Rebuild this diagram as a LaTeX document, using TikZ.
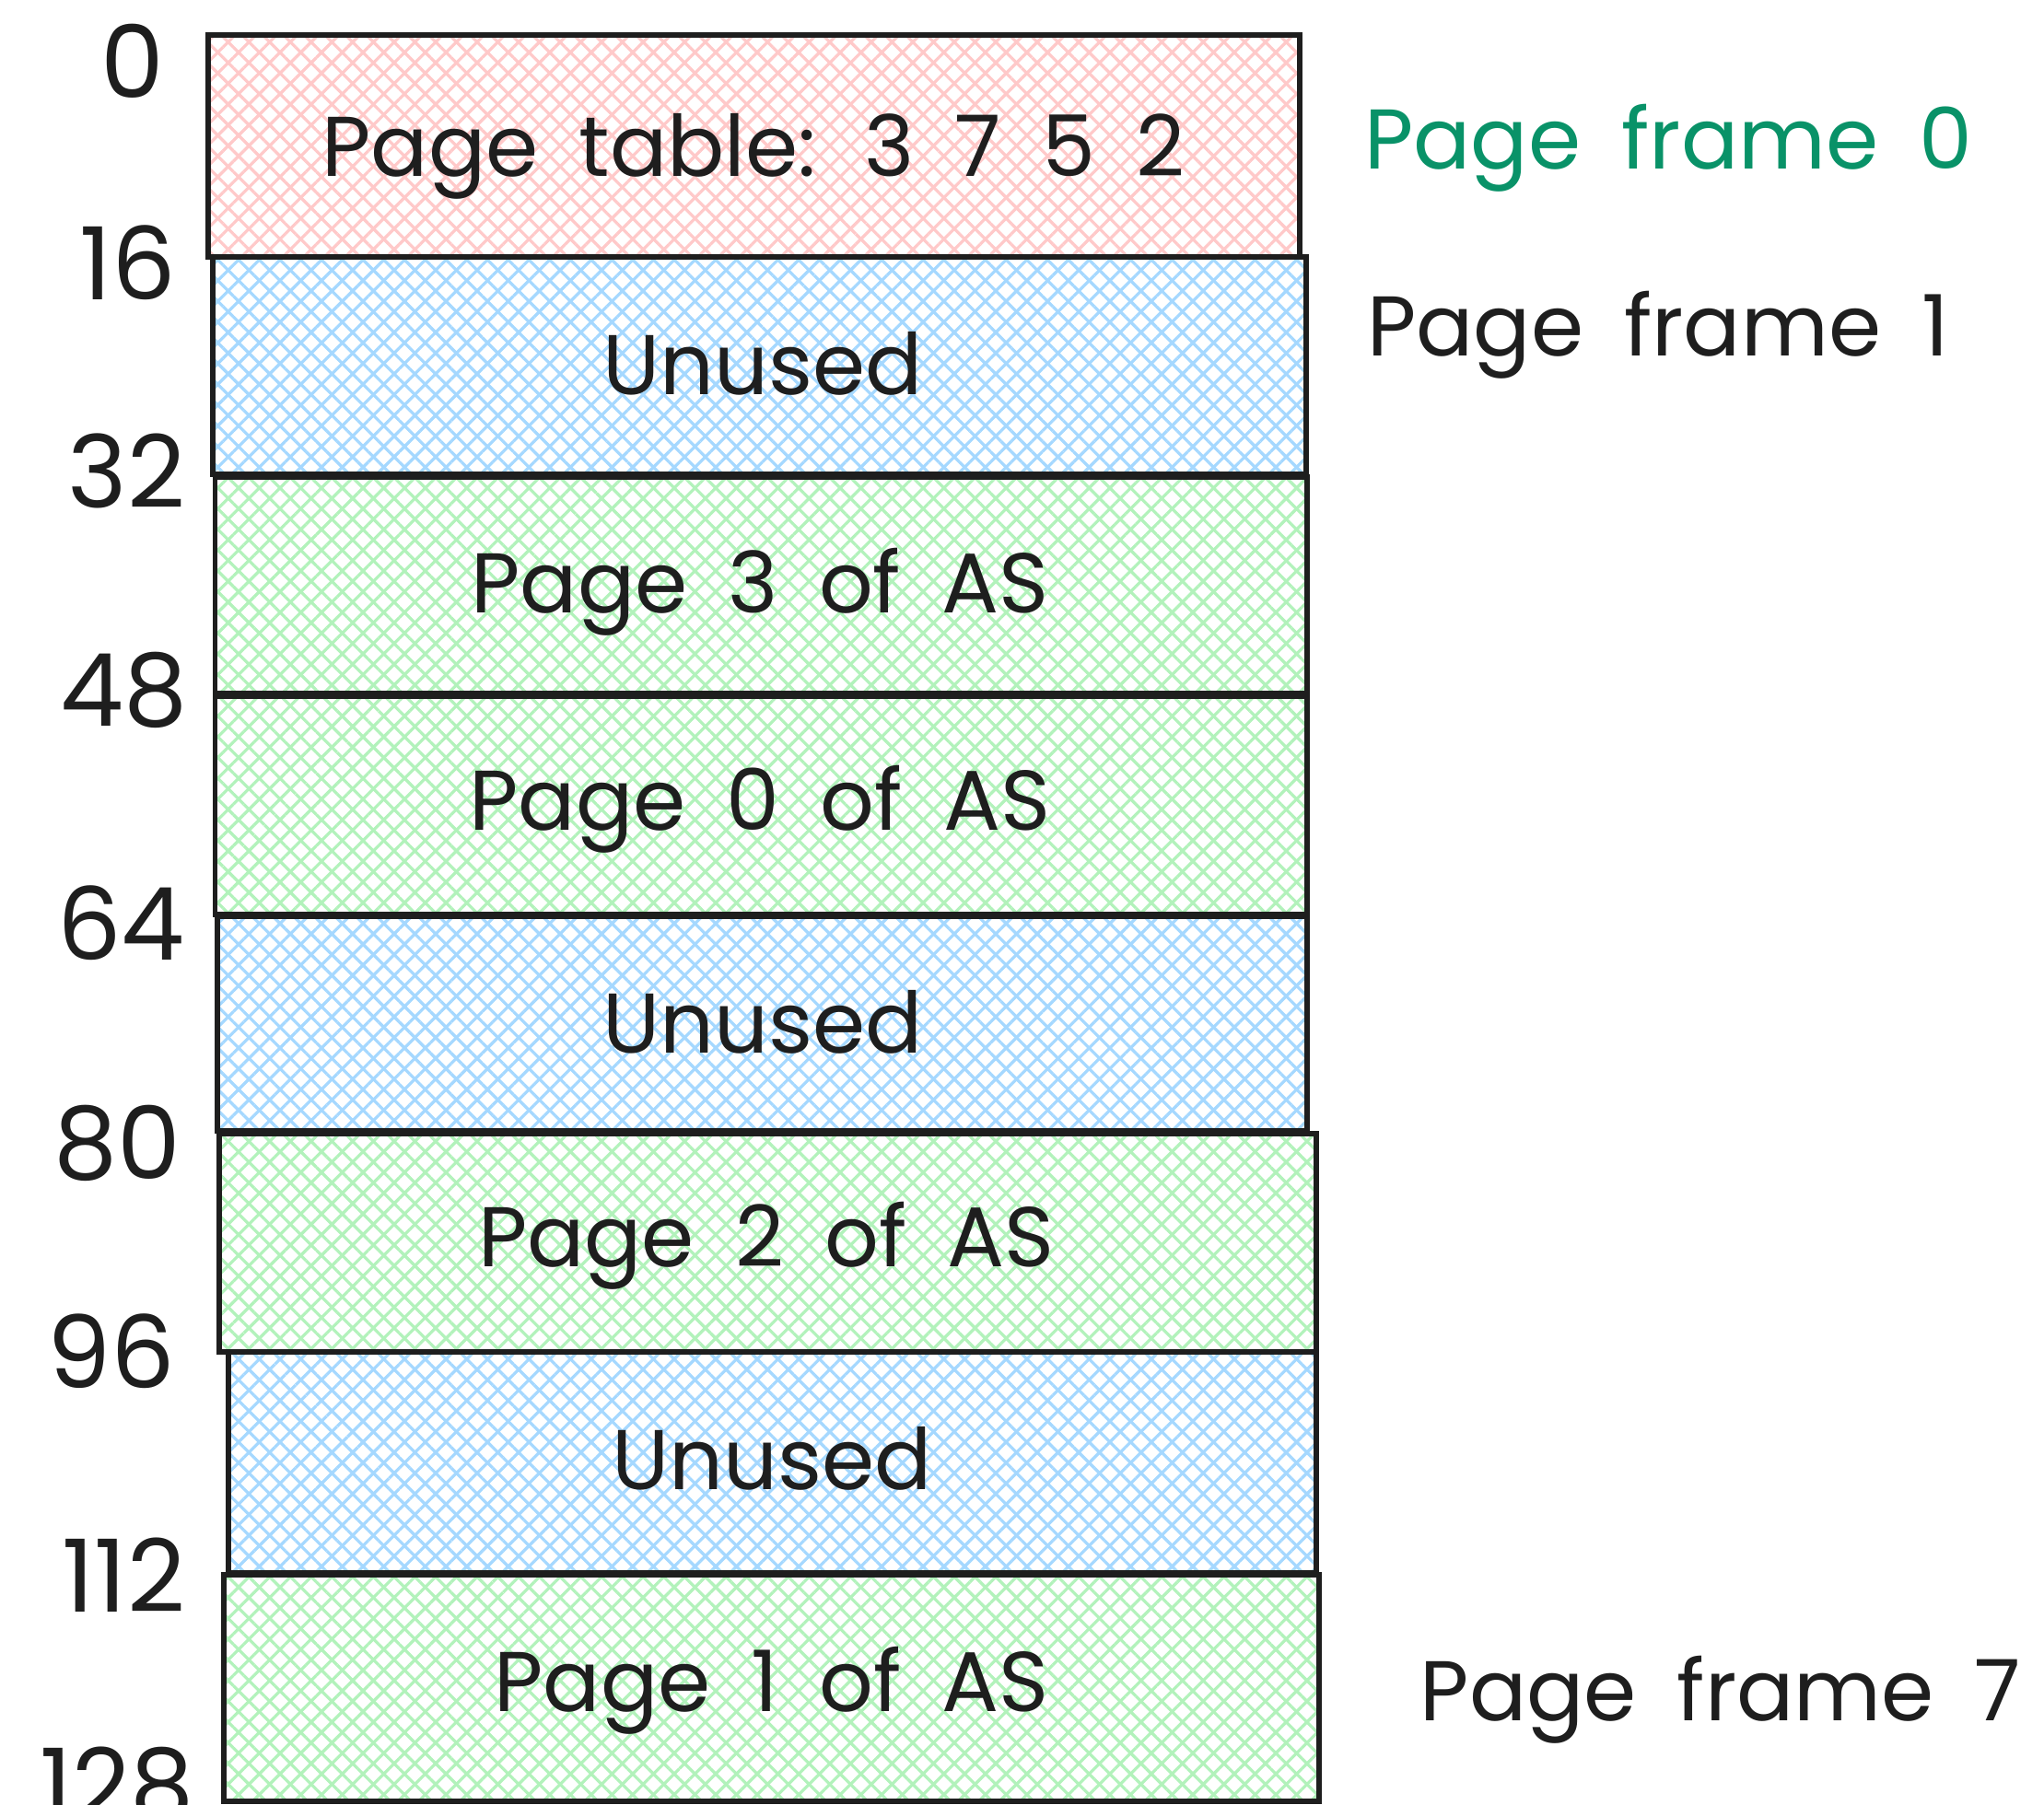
\documentclass[tikz,border=0pt]{standalone}
\usepackage{fontspec}
\setmainfont[WordSpace=1.8]{Poppins}
\usetikzlibrary{patterns.meta,fit}

\definecolor{ink}{HTML}{1E1E1E}
\definecolor{pinkfill}{HTML}{FFC9C9}
\definecolor{bluefill}{HTML}{A5D8FF}
\definecolor{greenfill}{HTML}{B2F2BB}
\definecolor{framegreen}{HTML}{099268}

\tikzset{
  % cross-hatched fill, both line sets laid down before the outline
  hatch/.style={
    preaction={pattern={Lines[angle=45,distance=3.2pt,line width=0.65pt]}, pattern color=#1},
    preaction={pattern={Lines[angle=-45,distance=3.2pt,line width=0.65pt]}, pattern color=#1}},
  membox/.style={hatch=#1, draw=ink, line width=1.2pt, inner sep=0pt},
  boxtext/.style={anchor=base, inner sep=0pt, text=ink, font=\fontsize{18.5}{22}\selectfont},
  addr/.style={anchor=base, inner sep=0pt, text=ink, font=\fontsize{22}{26}\selectfont},
  framelabel/.style={anchor=base, inner sep=0pt, font=\fontsize{18.5}{22}\selectfont},
}

\begin{document}
\begin{tikzpicture}[x=0.01cm,y=-0.01cm]
\useasboundingbox (0,0) rectangle (1568,1385);

% memory boxes, one per 16-byte page frame
\node[membox=pinkfill,  fit={(160,27)(997,197)}]   (b0) {};
\node[membox=bluefill,  fit={(163,197)(1002,364)}] (b1) {};
\node[membox=greenfill, fit={(165,366)(1003,532)}] (b2) {};
\node[membox=greenfill, fit={(165,534)(1003,702)}] (b3) {};
\node[membox=bluefill,  fit={(167,703)(1003,868)}] (b4) {};
\node[membox=greenfill, fit={(168,870)(1010,1037)}] (b5) {};
\node[membox=bluefill,  fit={(175,1037)(1010,1207)}] (b6) {};
\node[membox=greenfill, fit={(172,1208)(1012,1382)}] (b7) {};

% box contents
\node[boxtext] (t0) at (578,135)  {Page table: 3 7 5 2};
\node[boxtext] (t1) at (585,303)  {Unused};
\node[boxtext] (t2) at (583,470)  {Page 3 of AS};
\node[boxtext] (t3) at (583,637)  {Page 0 of AS};
\node[boxtext] (t4) at (585,808)  {Unused};
\node[boxtext] (t5) at (588,972)  {Page 2 of AS};
\node[boxtext] (t6) at (592,1143) {Unused};
\node[boxtext] (t7) at (592,1313) {Page 1 of AS};

% addresses
\node[addr] (a0)   at (102,75)   {0};
\node[addr] (a16)  at (98,230)   {16};
\node[addr] (a32)  at (97,390)   {32};
\node[addr] (a48)  at (95,557)   {48};
\node[addr] (a64)  at (93,737)   {64};
\node[addr] (a80)  at (90,905)   {80};
\node[addr] (a96)  at (85,1065)  {96};
\node[addr] (a112) at (95,1237)  {112};
\node[addr] (a128) at (90,1397)  {128};

% frame names
\node[framelabel, text=framegreen] (f0) at (1280,130)  {Page frame 0};
\node[framelabel, text=ink]        (f1) at (1272,273)  {Page frame 1};
\node[framelabel, text=ink]        (f7) at (1320,1320) {Page frame 7};
\end{tikzpicture}
\end{document}
